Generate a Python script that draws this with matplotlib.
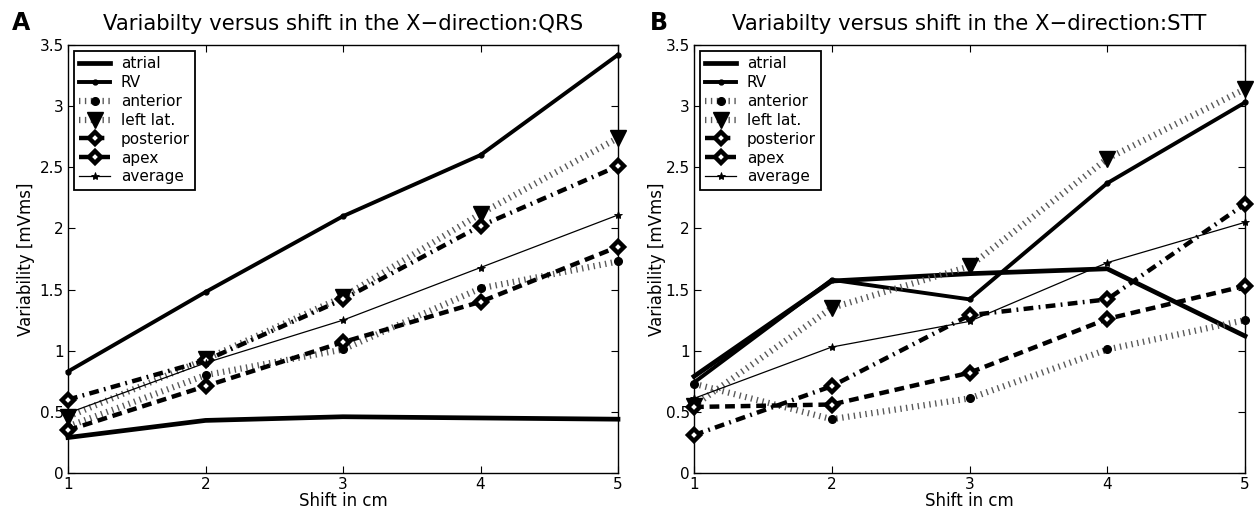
import matplotlib
matplotlib.use("Agg")
import matplotlib.pyplot as plt
from matplotlib.ticker import FixedLocator, FuncFormatter

plt.rcParams['font.family'] = ['DejaVu Sans']

shift = [1, 2, 3, 4, 5]
series_names = ["atrial", "RV", "anterior", "left lat.", "posterior", "apex", "average"]

qrs_atrial = [0.29, 0.43, 0.46, 0.45, 0.44]
qrs_rv = [0.83, 1.48, 2.10, 2.60, 3.42]
qrs_anterior = [0.38, 0.80, 1.01, 1.51, 1.73]
qrs_leftlat = [0.46, 0.93, 1.44, 2.12, 2.74]
qrs_posterior = [0.35, 0.71, 1.07, 1.40, 1.85]
qrs_apex = [0.60, 0.92, 1.42, 2.02, 2.51]
qrs_average = [0.49, 0.90, 1.25, 1.68, 2.11]

stt_atrial = [0.79, 1.57, 1.63, 1.67, 1.12]
stt_rv = [0.74, 1.58, 1.42, 2.37, 3.03]
stt_anterior = [0.73, 0.44, 0.61, 1.01, 1.25]
stt_leftlat = [0.55, 1.35, 1.69, 2.57, 3.14]
stt_posterior = [0.54, 0.56, 0.82, 1.26, 1.53]
stt_apex = [0.31, 0.71, 1.29, 1.42, 2.20]
stt_average = [0.61, 1.03, 1.24, 1.72, 2.05]

titles = ["Variabilty versus shift in the X\u2212direction:QRS",
          "Variabilty versus shift in the X\u2212direction:STT"]
panel_letters = ["A", "B"]
yticks = [0, 0.5, 1, 1.5, 2, 2.5, 3, 3.5]

dot = (0, (0.22, 0.72))
styles = [
    dict(ls='-', lw=3.4, marker=None, color='black'),
    dict(ls='-', lw=2.8, marker='o', ms=3.5, color='black'),
    dict(ls=dot, lw=4.5, marker='o', ms=5.5, color='0.35', mfc='black', mec='black'),
    dict(ls=dot, lw=4.5, marker='v', ms=12, color='0.35', mfc='black', mec='black'),
    dict(ls=(0, (2.2, 1.3)), lw=3.2, marker='D', ms=6.5, color='black', mfc='white', mec='black', mew=3.2),
    dict(ls=(0, (2.2, 1.2, 0.4, 1.2)), lw=3.2, marker='D', ms=6.5, color='black', mfc='white', mec='black', mew=3.2),
    dict(ls='-', lw=0.9, marker='*', ms=6, color='black', mew=0.6),
]

fig = plt.figure(figsize=(12.54, 5.17), dpi=100)
W, H = 1254, 517
ax_boxes = [(68, 618), (694, 1245)]
letter_x = [12, 650]
ylabel_pad = [3.3, 0]
top, bottom = 45, 473

datasets = [
    [qrs_atrial, qrs_rv, qrs_anterior, qrs_leftlat, qrs_posterior, qrs_apex, qrs_average],
    [stt_atrial, stt_rv, stt_anterior, stt_leftlat, stt_posterior, stt_apex, stt_average],
]

for i, (x0, x1) in enumerate(ax_boxes):
    ax = fig.add_axes([x0 / W, 1 - bottom / H, (x1 - x0) / W, (bottom - top) / H])
    for name, vals, st in zip(series_names, datasets[i], styles):
        ax.plot(shift, vals, label=name, clip_on=False, zorder=3, **st)
    ax.set_xlim(1, 5)
    ax.set_ylim(0, 3.5)
    ax.xaxis.set_major_locator(FixedLocator(shift))
    ax.yaxis.set_major_locator(FixedLocator(yticks))
    ax.yaxis.set_major_formatter(FuncFormatter(lambda v, p: ('%g' % v)))
    ax.tick_params(direction='in', length=5, width=0.8, top=True, right=True,
                   labelsize=11, pad=3, colors='black')
    for sp in ax.spines.values():
        sp.set_linewidth(1.0)
    ax.set_xlabel("Shift in cm", fontsize=12, labelpad=0)
    ax.set_ylabel("Variability [mVms]", fontsize=12, labelpad=ylabel_pad[i])
    ax.set_title(titles[i], fontsize=15.3, pad=11)
    leg = ax.legend(loc='upper left', fontsize=11, frameon=True, fancybox=False,
                    edgecolor='black', borderpad=0.35, labelspacing=0.25,
                    handlelength=2.0, handletextpad=0.7, borderaxespad=0.4,
                    framealpha=1)
    leg.get_frame().set_linewidth(1.3)
    fig.text(letter_x[i] / W, 1 - 30 / H, panel_letters[i], fontsize=17, fontweight='bold',
             va='baseline', ha='left')

fig.savefig("out.png", dpi=100)
